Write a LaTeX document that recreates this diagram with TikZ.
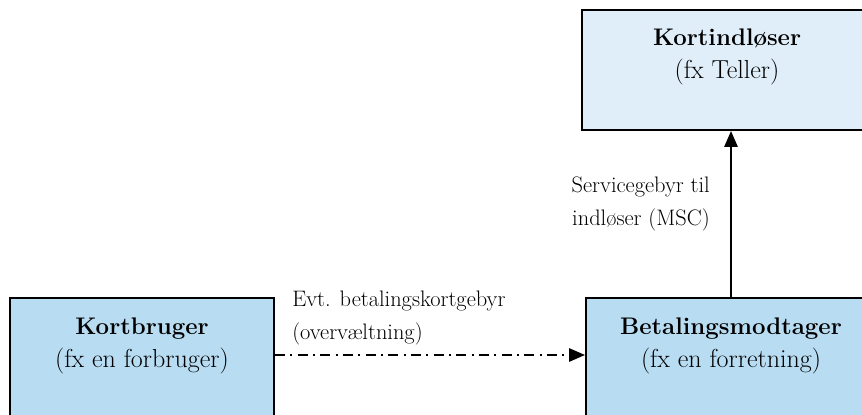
\documentclass[tikz,border=0pt]{standalone}
\usetikzlibrary{arrows.meta}
\definecolor{lysblaa}{RGB}{224,238,249}
\definecolor{mellemblaa}{RGB}{184,220,242}
\newcommand{\fed}[1]{{\fontsize{18}{24.75}\selectfont\bfseries #1}}
\tikzset{
  aktoer/.style={draw, line width=1.5pt, minimum height=90pt, inner sep=0pt},
  titel/.style={align=center, inner sep=0pt, font=\fontsize{19.5}{24.75}\selectfont},
  gebyr/.style={inner sep=0pt, font=\fontsize{16.8}{24.75}\selectfont},
  pil/.style={line width=1.5pt, -{Triangle[length=12pt,width=10pt]}},
}
\begin{document}
\begin{tikzpicture}[x=0.75pt, y=0.75pt]
 \clip (0,0) rectangle (862,414);
 % boksene
 \node[aktoer, fill=lysblaa, minimum width=217.5pt] (indloeser) at (727,344) {};
 \node[aktoer, fill=mellemblaa, minimum width=198pt] (bruger) at (142,56) {};
 \node[aktoer, fill=mellemblaa, minimum width=217.5pt] (modtager) at (731,56) {};
 \node[titel, anchor=base] (indloesertekst) at ([shift={(0,-70)}]indloeser.north) {\fed{Kortindløser}\\(fx Teller)};
 \node[titel, anchor=base] (brugertekst) at ([shift={(0,-70)}]bruger.north) {\fed{Kortbruger}\\(fx en forbruger)};
 \node[titel, anchor=base] (modtagertekst) at ([shift={(0,-70)}]modtager.north) {\fed{Betalingsmodtager}\\(fx en forretning)};
 % gebyrer
 \draw[pil, dash pattern=on 7.5pt off 4pt on 1.5pt off 4pt] ([yshift=2.25pt]bruger.east) -- ([yshift=2.25pt]modtager.west);
 \node[gebyr, anchor=base west, align=left] (overvaeltning) at ([shift={(17,19)}]bruger.east) {Evt. betalingskortgebyr\\(overvæltning)};
 \draw[pil] (modtager.north) -- (modtager.north |- indloeser.south);
 \node[gebyr, anchor=base east, align=right] (msc) at ([shift={(-21,-95)}]modtager.north |- indloeser.south) {Servicegebyr til\\indløser (MSC)};
\end{tikzpicture}
\end{document}
